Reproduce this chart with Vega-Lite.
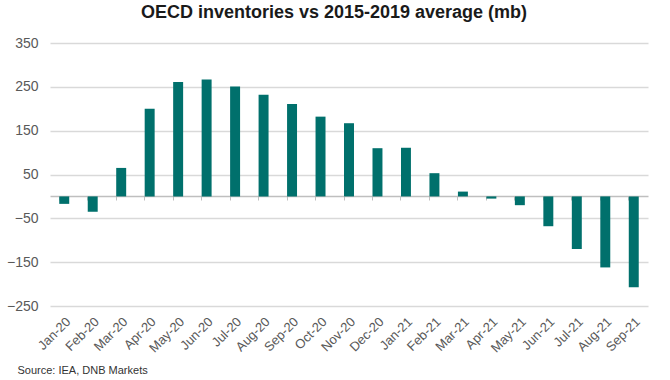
{
  "$schema": "https://vega.github.io/schema/vega-lite/v6.json",
  "width": 598,
  "height": 263,
  "autosize": {"type": "none"},
  "padding": {"left": 50, "top": 43, "right": 22, "bottom": 74},
  "background": "white",
  "title": {
    "text": "OECD inventories vs 2015-2019 average (mb)",
    "font": "Liberation Sans",
    "fontSize": 18,
    "fontWeight": "bold",
    "color": "#1a1a1a",
    "anchor": "middle",
    "dx": -15,
    "offset": 14
  },
  "config": {
    "view": {"stroke": null},
    "axis": {"labelFont": "Liberation Sans", "labelColor": "#595959", "titleFont": "Liberation Sans"}
  },
  "data": {
    "values": [
      {"month": "Jan-20", "value": -17},
      {"month": "Feb-20", "value": -35},
      {"month": "Mar-20", "value": 65},
      {"month": "Apr-20", "value": 200},
      {"month": "May-20", "value": 261},
      {"month": "Jun-20", "value": 267},
      {"month": "Jul-20", "value": 251},
      {"month": "Aug-20", "value": 232},
      {"month": "Sep-20", "value": 211},
      {"month": "Oct-20", "value": 182},
      {"month": "Nov-20", "value": 167},
      {"month": "Dec-20", "value": 110},
      {"month": "Jan-21", "value": 111},
      {"month": "Feb-21", "value": 53},
      {"month": "Mar-21", "value": 11},
      {"month": "Apr-21", "value": -5},
      {"month": "May-21", "value": -20},
      {"month": "Jun-21", "value": -68},
      {"month": "Jul-21", "value": -120},
      {"month": "Aug-21", "value": -162},
      {"month": "Sep-21", "value": -207}
    ]
  },
  "resolve": {"axis": {"x": "independent"}},
  "layer": [
    {
      "mark": {"type": "bar", "color": "#00706c"},
      "encoding": {
        "x": {
          "field": "month",
          "type": "ordinal",
          "sort": null,
          "scale": {"paddingInner": 0.65, "paddingOuter": 0.325},
          "axis": {
            "orient": "bottom",
            "domain": false,
            "ticks": false,
            "labelAngle": -45,
            "labelFontSize": 13,
            "labelPadding": 9,
            "title": "Source: IEA, DNB Markets",
            "titleFontSize": 11,
            "titleFontWeight": "normal",
            "titleColor": "#333333",
            "titleAnchor": "start",
            "titleAlign": "left",
            "titleBaseline": "alphabetic",
            "titleX": -33,
            "titleY": 67
          }
        },
        "y": {
          "field": "value",
          "type": "quantitative",
          "scale": {"domain": [-250, 350], "nice": false, "zero": false},
          "axis": {
            "values": [-250, -150, -50, 50, 150, 250, 350],
            "grid": true,
            "gridColor": "#d9d9d9",
            "gridWidth": 1.5,
            "domain": false,
            "ticks": false,
            "labelFontSize": 14,
            "labelPadding": 12,
            "title": null
          }
        }
      }
    },
    {
      "mark": {"type": "tick", "opacity": 0},
      "encoding": {
        "x": {
          "field": "month",
          "type": "ordinal",
          "sort": null,
          "axis": {
            "orient": "bottom",
            "offset": -110,
            "labels": false,
            "title": null,
            "domain": true,
            "domainColor": "#bfbfbf",
            "domainWidth": 1.5,
            "ticks": true,
            "tickColor": "#bfbfbf",
            "tickSize": 4,
            "bandPosition": 0
          }
        },
        "y": {"field": "value", "type": "quantitative"}
      }
    }
  ]
}
